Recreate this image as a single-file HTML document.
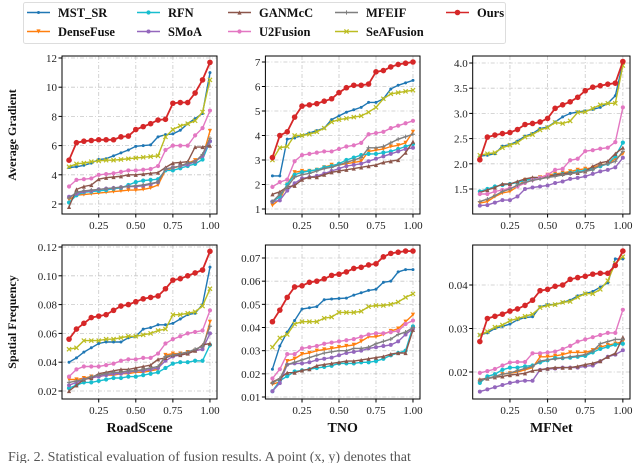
<!DOCTYPE html>
<html><head><meta charset="utf-8"><style>
html,body{margin:0;padding:0;background:#fff;}
svg{display:block;font-family:"Liberation Serif",serif;}
</style></head><body>
<svg id="chart" width="640" height="463" viewBox="0 0 640 463" xmlns="http://www.w3.org/2000/svg"></svg>
<script>
const seriesNames=["MST_SR","DenseFuse","RFN","SMoA","GANMcC","U2Fusion","MFEIF","SeAFusion","Ours"];
const xValues=[0.05,0.1,0.15,0.2,0.25,0.3,0.35,0.4,0.45,0.5,0.55,0.6,0.65,0.7,0.75,0.8,0.85,0.9,0.95,1.0];
const xTicks=[0.25,0.5,0.75,1.0];
const xTickLabels=["0.25","0.50","0.75","1.00"];
const datasetNames=["RoadScene","TNO","MFNet"];
const metricNames=["Average Gradient","Spatial Frequency"];

const agRoad={
MST_SR:[4.5,4.55,4.65,4.8,5.05,5.1,5.3,5.5,5.7,5.95,6.0,6.05,6.6,6.75,6.8,7.05,7.5,7.85,8.2,11.0],
DenseFuse:[2.3,2.6,2.65,2.7,2.75,2.8,2.85,2.9,2.95,2.95,3.0,3.1,3.3,4.3,4.45,4.6,4.8,5.0,5.2,7.0],
RFN:[2.1,2.6,2.8,2.85,2.9,2.95,3.05,3.1,3.3,3.5,3.6,3.65,3.7,4.3,4.3,4.45,4.6,4.75,5.05,6.3],
SMoA:[2.5,2.7,2.85,2.9,3.0,3.05,3.1,3.15,3.2,3.2,3.25,3.35,3.5,4.4,4.5,4.6,4.7,4.9,5.3,6.3],
GANMcC:[1.8,3.0,3.2,3.3,3.7,3.8,3.85,3.9,4.0,4.0,4.05,4.1,4.15,4.5,4.8,4.85,4.9,5.9,5.9,6.0],
U2Fusion:[3.2,3.65,3.7,3.75,4.0,4.05,4.1,4.2,4.3,4.3,4.35,4.4,4.6,5.7,6.0,6.0,6.0,6.7,7.2,8.4],
MFEIF:[2.4,2.8,2.9,2.95,3.0,3.05,3.1,3.15,3.2,3.25,3.3,3.4,3.5,4.4,4.5,4.6,4.8,4.9,5.4,6.5],
SeAFusion:[4.55,4.75,4.8,4.9,4.95,5.0,5.0,5.05,5.1,5.15,5.2,5.25,5.3,6.6,7.1,7.35,7.5,7.7,8.3,10.5],
Ours:[5.0,6.2,6.3,6.35,6.4,6.4,6.4,6.6,6.65,7.1,7.3,7.5,7.75,7.8,8.9,8.95,8.95,9.6,10.5,11.7]};
const agTno={
MST_SR:[2.35,2.35,3.85,3.9,4.0,4.1,4.2,4.3,4.65,4.8,4.95,5.05,5.15,5.35,5.35,5.5,5.9,6.05,6.15,6.25],
DenseFuse:[1.15,1.4,2.0,2.5,2.55,2.55,2.6,2.7,2.8,2.8,2.85,2.9,2.95,3.35,3.4,3.45,3.55,3.6,3.7,4.15],
RFN:[1.3,1.5,2.0,2.4,2.5,2.55,2.6,2.7,2.75,2.85,3.0,3.1,3.2,3.25,3.25,3.3,3.35,3.45,3.55,3.65],
SMoA:[1.3,1.35,1.75,2.05,2.25,2.3,2.35,2.45,2.55,2.65,2.75,2.8,2.85,2.95,3.05,3.15,3.25,3.35,3.45,3.5],
GANMcC:[1.6,1.7,1.9,1.95,2.2,2.3,2.3,2.4,2.5,2.55,2.6,2.65,2.7,2.75,2.8,2.9,2.95,3.0,3.3,3.75],
U2Fusion:[1.9,2.1,2.2,2.95,3.2,3.25,3.3,3.35,3.35,3.45,3.55,3.6,3.7,4.05,4.1,4.15,4.3,4.4,4.5,4.6],
MFEIF:[1.3,1.6,1.9,2.3,2.4,2.45,2.55,2.65,2.7,2.8,2.9,3.0,3.1,3.5,3.5,3.55,3.7,3.85,3.95,4.05],
SeAFusion:[3.0,3.5,3.55,4.0,4.0,4.05,4.15,4.3,4.55,4.65,4.7,4.75,4.8,4.95,5.15,5.5,5.7,5.75,5.8,5.85],
Ours:[3.1,4.0,4.15,4.75,5.2,5.25,5.3,5.4,5.5,5.75,5.95,6.05,6.05,6.1,6.6,6.65,6.8,6.9,6.95,7.0]};
const agMfnet={
MST_SR:[2.15,2.17,2.2,2.35,2.38,2.45,2.55,2.6,2.7,2.73,2.83,2.93,3.0,3.03,3.05,3.08,3.12,3.2,3.35,4.0],
DenseFuse:[1.22,1.25,1.35,1.42,1.45,1.55,1.68,1.7,1.73,1.78,1.8,1.82,1.85,1.88,1.9,1.92,1.98,2.0,2.1,2.2],
RFN:[1.45,1.5,1.55,1.58,1.6,1.63,1.67,1.7,1.72,1.75,1.78,1.8,1.82,1.85,1.87,1.9,1.95,2.0,2.15,2.42],
SMoA:[1.17,1.18,1.23,1.28,1.28,1.35,1.5,1.53,1.55,1.57,1.62,1.65,1.7,1.72,1.75,1.8,1.85,1.88,1.93,2.12],
GANMcC:[1.43,1.48,1.53,1.6,1.6,1.65,1.7,1.73,1.73,1.75,1.78,1.8,1.82,1.82,1.85,1.95,2.02,2.05,2.2,2.32],
U2Fusion:[1.4,1.4,1.45,1.48,1.52,1.55,1.62,1.68,1.72,1.78,1.88,1.9,2.07,2.1,2.25,2.27,2.3,2.32,2.43,3.12],
MFEIF:[1.25,1.3,1.37,1.45,1.5,1.58,1.63,1.67,1.7,1.73,1.75,1.78,1.8,1.83,1.85,1.88,1.97,2.0,2.05,2.25],
SeAFusion:[2.17,2.2,2.22,2.32,2.37,2.42,2.53,2.58,2.67,2.72,2.82,2.8,2.85,3.02,3.03,3.1,3.17,3.2,3.2,3.95],
Ours:[2.08,2.53,2.57,2.6,2.62,2.68,2.78,2.8,2.83,2.9,3.1,3.17,3.23,3.32,3.45,3.52,3.55,3.58,3.6,4.03]};
const sfRoad={
MST_SR:[.040,.043,.047,.05,.053,.054,.054,.054,.057,.058,.063,.064,.066,.066,.067,.07,.073,.074,.08,.106],
DenseFuse:[.028,.028,.029,.03,.03,.031,.031,.032,.032,.033,.033,.034,.035,.045,.046,.046,.047,.048,.049,.068],
RFN:[.022,.024,.026,.026,.027,.028,.029,.029,.03,.03,.031,.032,.033,.036,.039,.04,.04,.041,.041,.052],
SMoA:[.024,.026,.028,.029,.03,.031,.032,.032,.033,.034,.034,.035,.036,.041,.044,.045,.046,.048,.049,.06],
GANMcC:[.02,.024,.028,.029,.032,.033,.034,.035,.035,.036,.037,.038,.042,.043,.045,.045,.046,.048,.052,.053],
U2Fusion:[.030,.035,.037,.037,.037,.038,.039,.041,.042,.042,.043,.043,.046,.053,.056,.058,.06,.061,.062,.076],
MFEIF:[.026,.027,.028,.03,.031,.032,.033,.033,.034,.034,.035,.036,.037,.044,.045,.046,.047,.049,.051,.065],
SeAFusion:[.049,.05,.055,.055,.055,.056,.056,.057,.058,.058,.059,.06,.062,.063,.073,.073,.074,.075,.079,.091],
Ours:[.056,.063,.067,.071,.072,.073,.076,.079,.080,.082,.084,.085,.086,.091,.097,.098,.1,.102,.104,.117]};
const sfTno={
MST_SR:[.022,.032,.038,.043,.048,.0485,.049,.052,.0523,.0525,.0527,.054,.055,.056,.0565,.0595,.06,.064,.065,.065],
DenseFuse:[.0155,.0165,.0255,.0265,.0285,.029,.03,.0305,.031,.0315,.032,.0325,.034,.036,.036,.037,.0385,.0395,.0425,.0455],
RFN:[.0125,.017,.019,.021,.0215,.022,.0225,.023,.0235,.0245,.0245,.0245,.025,.025,.0255,.0265,.028,.029,.030,.0405],
SMoA:[.0125,.016,.024,.0245,.0245,.025,.026,.0265,.027,.028,.029,.0295,.030,.031,.0315,.032,.0325,.034,.037,.0395],
GANMcC:[.0165,.018,.0205,.0205,.0215,.022,.0235,.024,.0245,.025,.0255,.0255,.026,.0265,.027,.0275,.0285,.029,.029,.039],
U2Fusion:[.018,.022,.0285,.0285,.031,.0315,.032,.033,.0335,.034,.0345,.035,.036,.037,.0375,.0375,.038,.0385,.0415,.043],
MFEIF:[.016,.018,.024,.025,.026,.027,.028,.029,.0295,.030,.030,.031,.031,.0315,.033,.034,.035,.037,.038,.040],
SeAFusion:[.0315,.0355,.037,.0415,.0425,.0425,.0425,.044,.0445,.0465,.0465,.0465,.047,.049,.0495,.0495,.05,.051,.053,.0545],
Ours:[.0425,.0475,.053,.0575,.058,.0595,.06,.061,.0625,.063,.064,.0655,.066,.067,.0675,.0705,.072,.0725,.073,.073]};
const sfMfnet={
MST_SR:[.0285,.029,.030,.0305,.031,.032,.0325,.0327,.035,.0355,.0355,.036,.0365,.0375,.038,.0385,.0395,.0405,.046,.046],
DenseFuse:[.018,.0185,.019,.0195,.0197,.02,.0205,.021,.0235,.0235,.0237,.024,.0245,.0245,.0245,.025,.0257,.0262,.0265,.027],
RFN:[.0175,.019,.0195,.0205,.021,.021,.0213,.0215,.0222,.0227,.0232,.0232,.0233,.0235,.0237,.0245,.0253,.0258,.0263,.0265],
SMoA:[.0155,.016,.0165,.017,.0175,.0178,.018,.018,.0205,.0207,.0208,.021,.021,.021,.0213,.0215,.0225,.0235,.024,.025],
GANMcC:[.0183,.0185,.0188,.019,.0193,.0195,.0197,.0203,.0205,.0208,.021,.021,.021,.0213,.0217,.022,.0225,.0235,.0243,.028],
U2Fusion:[.0198,.0202,.0207,.0215,.0222,.0223,.0223,.0243,.0243,.0245,.0247,.0253,.026,.027,.0275,.028,.0285,.029,.029,.0343],
MFEIF:[.018,.0185,.019,.0195,.0198,.0203,.0208,.0213,.0225,.0228,.023,.0232,.0235,.0237,.024,.0248,.0265,.027,.0275,.0275],
SeAFusion:[.0285,.0293,.0303,.0308,.0318,.0323,.0328,.0333,.0348,.0353,.0355,.036,.0362,.0372,.038,.038,.039,.041,.045,.0465],
Ours:[.027,.0323,.0328,.0333,.034,.0345,.0353,.0365,.0387,.039,.0397,.04,.0413,.0417,.042,.0425,.0427,.0427,.0445,.0478]};

const yTicksAgRoad=[2,4,6,8,10,12], yLabelsAgRoad=["2","4","6","8","10","12"];
const yTicksAgTno=[1,2,3,4,5,6,7], yLabelsAgTno=["1","2","3","4","5","6","7"];
const yTicksAgMfnet=[1.5,2.0,2.5,3.0,3.5,4.0], yLabelsAgMfnet=["1.5","2.0","2.5","3.0","3.5","4.0"];
const yTicksSfRoad=[0.02,0.04,0.06,0.08,0.10,0.12], yLabelsSfRoad=["0.02","0.04","0.06","0.08","0.10","0.12"];
const yTicksSfTno=[0.01,0.02,0.03,0.04,0.05,0.06,0.07], yLabelsSfTno=["0.01","0.02","0.03","0.04","0.05","0.06","0.07"];
const yTicksSfMfnet=[0.02,0.03,0.04], yLabelsSfMfnet=["0.02","0.03","0.04"];

const colors={MST_SR:"#1f77b4",DenseFuse:"#ff7f0e",RFN:"#17becf",SMoA:"#9467bd",GANMcC:"#8c564b",U2Fusion:"#e377c2",MFEIF:"#7f7f7f",SeAFusion:"#bcbd22",Ours:"#d62728"};
const markers={MST_SR:"dot",DenseFuse:"tri-down",RFN:"circle",SMoA:"star",GANMcC:"tri-up",U2Fusion:"circle",MFEIF:"plus",SeAFusion:"x",Ours:"circle"};

const NS="http://www.w3.org/2000/svg";
const svg=document.getElementById("chart");
function el(tag,attrs,parent){const e=document.createElementNS(NS,tag);for(const k in attrs)e.setAttribute(k,attrs[k]);(parent||svg).appendChild(e);return e;}

const panels=[
 {d:agRoad,t:yTicksAgRoad,l:yLabelsAgRoad,L:62,R:217,T:56,B:214,v1:12,p1:58,v2:2,p2:204,name:"roadscene-average-gradient"},
 {d:agTno,t:yTicksAgTno,l:yLabelsAgTno,L:265.4,R:420,T:56,B:214,v1:7,p1:62,v2:1,p2:209,name:"tno-average-gradient"},
 {d:agMfnet,t:yTicksAgMfnet,l:yLabelsAgMfnet,L:472.7,R:630,T:56,B:214,v1:4.0,p1:63,v2:1.5,p2:189,name:"mfnet-average-gradient"},
 {d:sfRoad,t:yTicksSfRoad,l:yLabelsSfRoad,L:62,R:217,T:245,B:399,v1:0.12,p1:247,v2:0.02,p2:391,name:"roadscene-spatial-frequency"},
 {d:sfTno,t:yTicksSfTno,l:yLabelsSfTno,L:265.4,R:420,T:245,B:399,v1:0.07,p1:258,v2:0.01,p2:397,name:"tno-spatial-frequency"},
 {d:sfMfnet,t:yTicksSfMfnet,l:yLabelsSfMfnet,L:472.7,R:630,T:245,B:399,v1:0.04,p1:285,v2:0.02,p2:372,name:"mfnet-spatial-frequency"}];

function marker(g,type,x,y,c,big){
  const r=big?2.8:2.1;let m;
  if(type==="circle"||type==="dot"){m=el("circle",{cx:x,cy:y,r:type==="dot"?1.5:r,fill:c},g);}
  else if(type==="tri-down"){m=el("polygon",{points:`${x-r},${y-r} ${x+r},${y-r} ${x},${y+r}`,fill:c},g);}
  else if(type==="tri-up"){m=el("polygon",{points:`${x-r},${y+r} ${x+r},${y+r} ${x},${y-r}`,fill:c},g);}
  else if(type==="star"){m=el("circle",{cx:x,cy:y,r:2,fill:c},g);}
  else if(type==="plus"){m=el("path",{d:`M${x-r},${y}H${x+r}M${x},${y-r}V${y+r}`,stroke:c,"stroke-width":1},g);}
  else {m=el("path",{d:`M${x-r},${y-r}L${x+r},${y+r}M${x-r},${y+r}L${x+r},${y-r}`,stroke:c,"stroke-width":1.2},g);}
  
  
}

panels.forEach((p,pi)=>{
  const g=el("g",{});
  
  
  const xs=v=>p.L+(v-0.0025)/1.045*(p.R-p.L);
  const ys=v=>p.p2+(v-p.v2)*(p.p1-p.p2)/(p.v1-p.v2);
  const grid=el("g",{stroke:"#c8c8c8","stroke-width":0.8,"stroke-dasharray":"4,2,1,2"},g);
  
  
  xTicks.forEach((t,i)=>{
    const x=xs(t);
    el("line",{x1:x,x2:x,y1:p.T,y2:p.B},grid);
    el("line",{x1:x,x2:x,y1:p.B,y2:p.B+3.5,stroke:"#000","stroke-dasharray":"none"},g);
    const tx=el("text",{x:x,y:p.B+15,"font-size":11,"text-anchor":"middle",fill:"#222"},g);
    tx.textContent=xTickLabels[i];
    
    
  });
  p.t.forEach((t,i)=>{
    const y=ys(t);
    el("line",{x1:p.L,x2:p.R,y1:y,y2:y},grid);
    el("line",{x1:p.L-3.5,x2:p.L,y1:y,y2:y,stroke:"#000"},g);
    const tx=el("text",{x:p.L-5,y:y+4,"font-size":11,"text-anchor":"end",fill:"#222"},g);
    tx.textContent=p.l[i];
    
    
  });
  seriesNames.forEach(s=>{
    const vals=p.d[s];const c=colors[s];
    const sg=el("g",{},g);
    
    
    const pts=vals.map((v,i)=>xs(xValues[i]).toFixed(1)+","+ys(v).toFixed(1)).join(" ");
    el("polyline",{points:pts,fill:"none",stroke:c,"stroke-width":s==="Ours"?1.8:1.4},sg);
    vals.forEach((v,i)=>marker(sg,markers[s],xs(xValues[i]),ys(v),c,s==="Ours"));
  });
  const fr=el("rect",{x:p.L,y:p.T,width:p.R-p.L,height:p.B-p.T,fill:"none",stroke:"#000","stroke-width":1},g);
  
  
  if(pi>=3){
    const t=el("text",{x:(p.L+p.R)/2,y:432,"font-size":14,"font-weight":"bold","text-anchor":"middle",fill:"#111"},g);
    t.textContent=datasetNames[pi-3];
    
    
  }
  if(pi===0||pi===3){
    const cy=(p.T+p.B)/2;
    const t=el("text",{x:16,y:cy,"font-size":12,"font-weight":"bold","text-anchor":"middle",fill:"#111",transform:`rotate(-90 16 ${cy})`},g);
    t.textContent=metricNames[pi===0?0:1];
    
    
  }
});

const lg=el("g",{});


el("rect",{x:23.5,y:2.5,width:482,height:41,rx:2,fill:"#fff",stroke:"#ddd"},lg);
const legCols=[27,137,228,335,446];
const legOrder=[["MST_SR","DenseFuse"],["RFN","SMoA"],["GANMcC","U2Fusion"],["MFEIF","SeAFusion"],["Ours"]];
legOrder.forEach((col,ci)=>col.forEach((s,ri)=>{
  const y=ri===0?12.5:31.5;const x=legCols[ci];
  const eg=el("g",{},lg);
  
  
  el("line",{x1:x,x2:x+23,y1:y,y2:y,stroke:colors[s],"stroke-width":1.6},eg);
  marker(eg,markers[s],x+11.5,y,colors[s],s==="Ours");
  const t=el("text",{x:x+31,y:y+4.5,"font-size":12.5,"font-weight":"bold",fill:"#111"},eg);
  t.textContent=s;
}));

const cap=el("text",{x:8,y:461,"font-size":14,fill:"#555"});
cap.textContent="Fig. 2.   Statistical evaluation of fusion results. A point (x, y) denotes that";


</script>
</body></html>
